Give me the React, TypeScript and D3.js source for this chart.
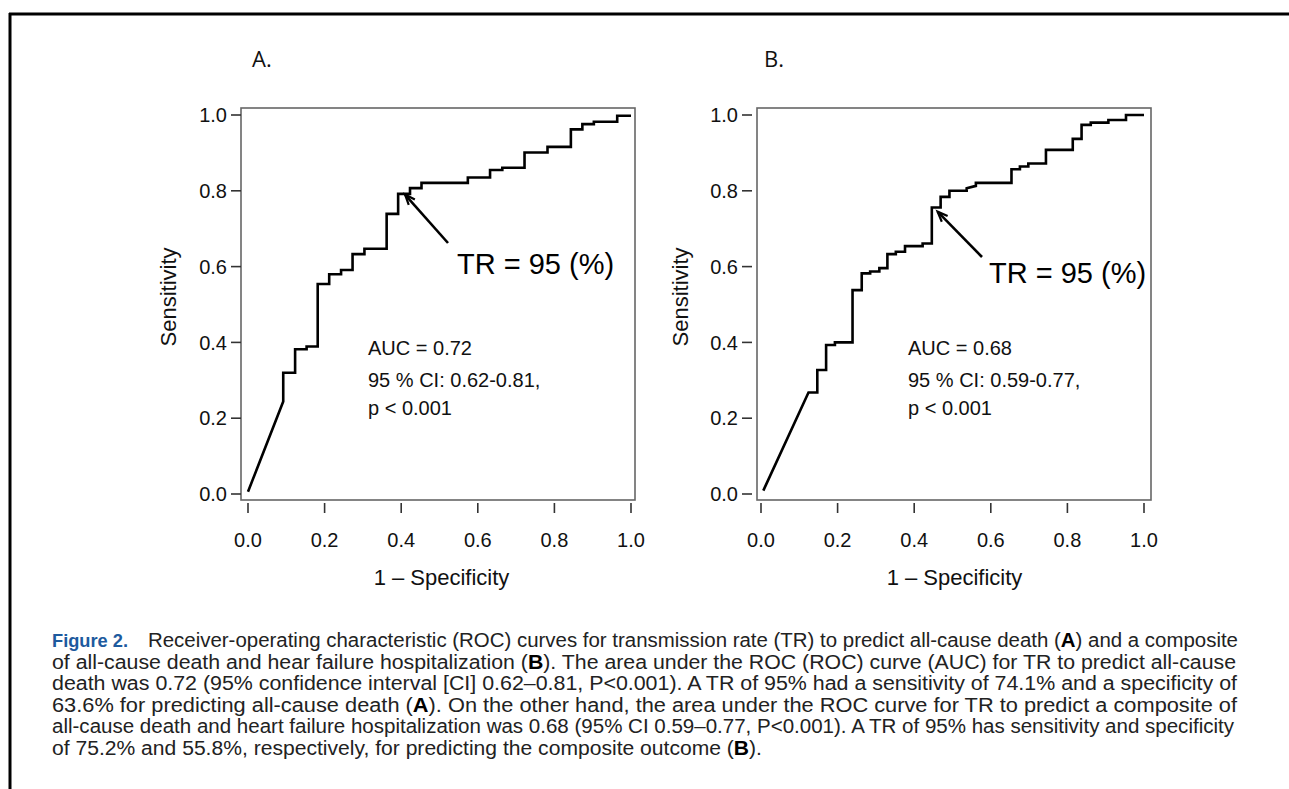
import React from 'react';
import * as d3 from 'd3';

// ROC curve vertices (1 - specificity, sensitivity)
const fprA = [0.0, 0.092, 0.092, 0.123, 0.123, 0.153, 0.153, 0.182, 0.182, 0.212, 0.212, 0.243, 0.243, 0.273, 0.273, 0.304, 0.304, 0.362, 0.362, 0.392, 0.392, 0.423, 0.423, 0.453, 0.453, 0.574, 0.574, 0.632, 0.632, 0.664, 0.664, 0.722, 0.722, 0.782, 0.782, 0.843, 0.843, 0.873, 0.873, 0.903, 0.903, 0.964, 0.964, 1.0];
const tprA = [0.006, 0.244, 0.32, 0.32, 0.382, 0.382, 0.389, 0.389, 0.554, 0.554, 0.58, 0.58, 0.591, 0.591, 0.633, 0.633, 0.647, 0.647, 0.739, 0.739, 0.792, 0.792, 0.807, 0.807, 0.821, 0.821, 0.835, 0.835, 0.855, 0.855, 0.861, 0.861, 0.901, 0.901, 0.916, 0.916, 0.962, 0.962, 0.976, 0.976, 0.982, 0.982, 0.998, 0.998];

const fprB = [0.006, 0.124, 0.147, 0.147, 0.17, 0.17, 0.193, 0.193, 0.239, 0.239, 0.263, 0.263, 0.285, 0.285, 0.309, 0.309, 0.33, 0.33, 0.352, 0.352, 0.376, 0.376, 0.422, 0.422, 0.446, 0.446, 0.469, 0.469, 0.492, 0.492, 0.537, 0.537, 0.561, 0.561, 0.654, 0.654, 0.676, 0.676, 0.698, 0.698, 0.744, 0.744, 0.814, 0.814, 0.837, 0.837, 0.861, 0.861, 0.907, 0.907, 0.953, 0.953, 1.0];
const tprB = [0.009, 0.268, 0.268, 0.327, 0.327, 0.393, 0.393, 0.4, 0.4, 0.538, 0.538, 0.582, 0.582, 0.587, 0.587, 0.596, 0.596, 0.633, 0.633, 0.639, 0.639, 0.654, 0.654, 0.661, 0.661, 0.756, 0.756, 0.784, 0.784, 0.8, 0.8, 0.807, 0.813, 0.821, 0.821, 0.857, 0.857, 0.864, 0.864, 0.872, 0.872, 0.908, 0.908, 0.937, 0.937, 0.974, 0.974, 0.98, 0.98, 0.987, 0.987, 1.0, 1.0];

const ticks = [0, 0.2, 0.4, 0.6, 0.8, 1.0];

const panels = [
  { label: 'A.', fpr: fprA, tpr: tprA, auc: 'AUC = 0.72', ci: '95 % CI: 0.62-0.81,', p: 'p < 0.001', cut: [0.41, 0.79] },
  { label: 'B.', fpr: fprB, tpr: tprB, auc: 'AUC = 0.68', ci: '95 % CI: 0.59-0.77,', p: 'p < 0.001', cut: [0.461, 0.745] },
];

// layout per panel (pixels)
const layout = [
  { x0: 248, x1: 631, boxL: 241, boxR: 635, yTickGap: 0, title: 252, ylab: 168, trX: 457, trY: 274, arrowFrom: [448, 243], txtX: 368 },
  { x0: 761, x1: 1144, boxL: 757, boxR: 1151, yTickGap: 5, title: 764, ylab: 680, trX: 989, trY: 283, arrowFrom: [982, 257], txtX: 908 },
];

const captionLines = [
  'Receiver-operating characteristic (ROC) curves for transmission rate (TR) to predict all-cause death (**A**) and a composite',
  'of all-cause death and hear failure hospitalization (**B**). The area under the ROC (ROC) curve (AUC) for TR to predict all-cause',
  'death was 0.72 (95% confidence interval [CI] 0.62–0.81, P<0.001). A TR of 95% had a sensitivity of 74.1% and a specificity of',
  '63.6% for predicting all-cause death (**A**). On the other hand, the area under the ROC curve for TR to predict a composite of',
  'all-cause death and heart failure hospitalization was 0.68 (95% CI 0.59–0.77, P<0.001). A TR of 95% has sensitivity and specificity',
  'of 75.2% and 55.8%, respectively, for predicting the composite outcome (**B**).',
];
const captionEnds = [1238, 1236, 1237, 1237, 1234, 762];

const sans = 'Liberation Sans, Arial, Helvetica, sans-serif';

const renderRich = (s: string) =>
  s.split('**').map((part, i) =>
    i % 2 === 1 ? <tspan key={i} fontWeight="bold" fill="#000">{part}</tspan> : <tspan key={i}>{part}</tspan>
  );

const Panel = ({ p, l }: any) => {
  const x = d3.scaleLinear().domain([0, 1]).range([l.x0, l.x1]);
  const y = d3.scaleLinear().domain([0, 1]).range([494, 115]);
  const pts: [number, number][] = p.fpr.map((f: number, i: number) => [f, p.tpr[i]]);
  const line = d3.line<[number, number]>().x(d => x(d[0])).y(d => y(d[1]));
  const tip = [x(p.cut[0]), y(p.cut[1])];
  const ang = Math.atan2(l.arrowFrom[1] - tip[1], l.arrowFrom[0] - tip[0]);
  const ah = 11;
  const head = [
    [tip[0] + ah * Math.cos(ang - 0.38), tip[1] + ah * Math.sin(ang - 0.38)],
    tip,
    [tip[0] + ah * Math.cos(ang + 0.38), tip[1] + ah * Math.sin(ang + 0.38)],
  ];
  const yTickR = l.boxL - l.yTickGap;
  return (
    <g fontFamily={sans}>
      <text x={l.title} y={67} fontSize={22} fontFamily="Open Sans, sans-serif" fill="#111">{p.label}</text>
      <rect x={l.boxL} y={108} width={l.boxR - l.boxL} height={392} fill="none" stroke="#666" strokeWidth={1.6} />
      {ticks.map(t => (
        <g key={'y' + t}>
          <line x1={yTickR - 10} x2={yTickR} y1={y(t)} y2={y(t)} stroke="#333" strokeWidth={1.6} />
          <text x={yTickR - 14} y={y(t)} dy="0.36em" textAnchor="end" fontSize={20} fill="#111">{t.toFixed(1)}</text>
        </g>
      ))}
      {ticks.map(t => (
        <g key={'x' + t}>
          <line x1={x(t)} x2={x(t)} y1={503} y2={513} stroke="#333" strokeWidth={1.6} />
          <text x={x(t)} y={547} textAnchor="middle" fontSize={20} fill="#111">{t.toFixed(1)}</text>
        </g>
      ))}
      <text x={(l.x0 + l.x1) / 2 + 2} y={585} textAnchor="middle" fontSize={22} fill="#111">1 – Specificity</text>
      <text transform={`translate(${l.ylab},297) rotate(-90)`} textAnchor="middle" dy="0.36em" fontSize={22} fill="#111">Sensitivity</text>
      <path d={line(pts) || ''} fill="none" stroke="#000" strokeWidth={2.6} strokeLinejoin="miter" />
      <line x1={l.arrowFrom[0]} y1={l.arrowFrom[1]} x2={tip[0]} y2={tip[1]} stroke="#000" strokeWidth={2.6} />
      <path d={`M${head[0][0]},${head[0][1]}L${head[1][0]},${head[1][1]}L${head[2][0]},${head[2][1]}`} fill="none" stroke="#000" strokeWidth={2.2} />
      <text x={l.trX} y={l.trY} fontSize={29} fill="#000">TR = 95 (%)</text>
      <text x={l.txtX} y={355} fontSize={20} fill="#111">{p.auc}</text>
      <text x={l.txtX} y={387} fontSize={20} fill="#111">{p.ci}</text>
      <text x={l.txtX} y={415} fontSize={20} fill="#111">{p.p}</text>
    </g>
  );
};

const App = () => {
  const width = 1289;
  const height = 789;
  return (
    <div style={{ position: 'absolute', left: 0, top: 0 }}>
      <svg width={width} height={height} style={{ display: 'block', background: '#fff' }}>
        {/* page frame */}
        <line x1={9} x2={width} y1={14} y2={14} stroke="#000" strokeWidth={3} />
        <line x1={10} x2={10} y1={13} y2={height} stroke="#000" strokeWidth={3} />
        {panels.map((p, i) => <Panel key={i} p={p} l={layout[i]} />)}
        {/* caption */}
        <g fontFamily={sans} fontSize={19.5} fill="#222">
          <text x={52} y={647} fontWeight="bold" fontSize={19} fill="#1d5a9e" textLength={76} lengthAdjust="spacingAndGlyphs">Figure 2.</text>
          {captionLines.map((s, i) => {
            const x0 = i === 0 ? 148 : 52;
            return (
              <text key={i} x={x0} y={647 + i * 21.5} textLength={captionEnds[i] - x0} lengthAdjust="spacingAndGlyphs">
                {renderRich(s)}
              </text>
            );
          })}
        </g>
      </svg>
    </div>
  );
};

export default App;
